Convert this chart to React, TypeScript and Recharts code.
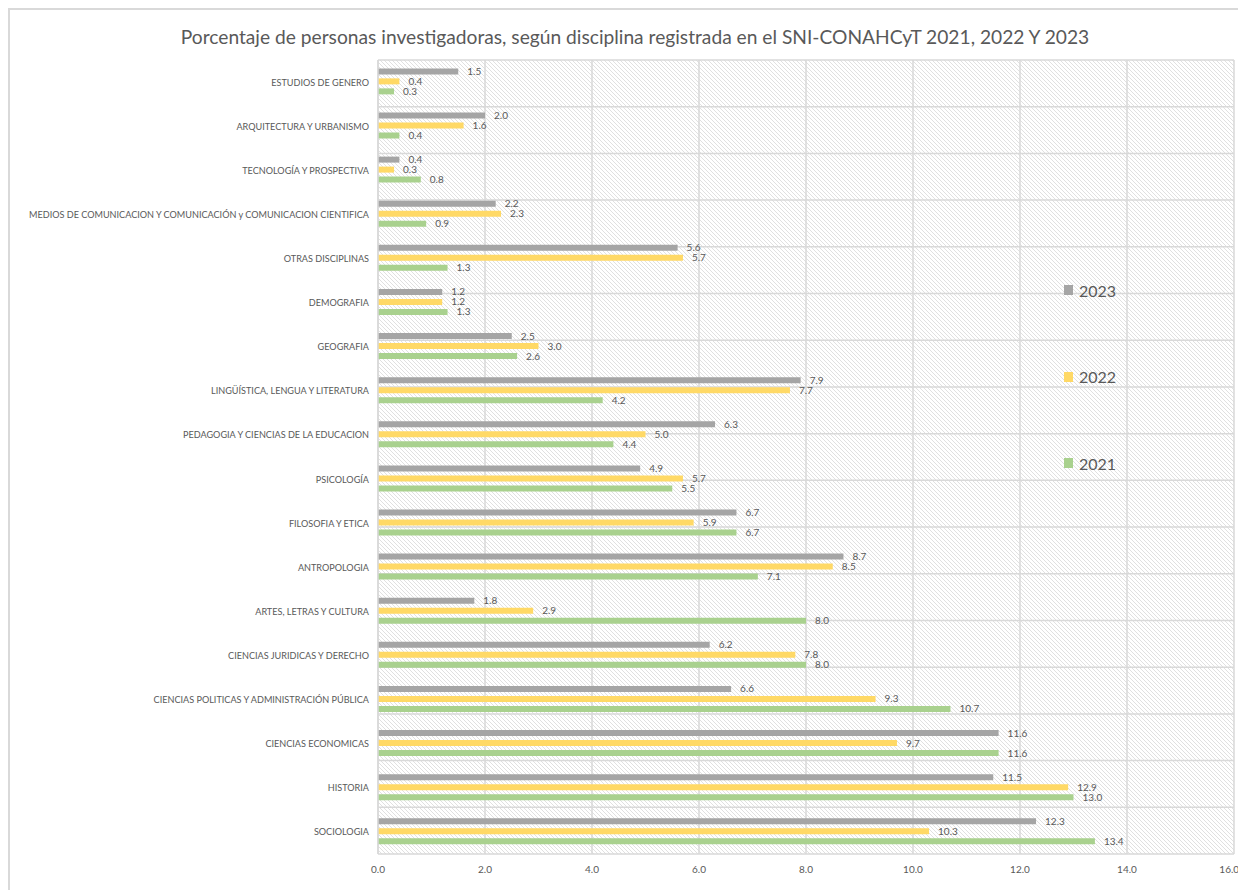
import React from 'react';
import { BarChart, Bar, XAxis, YAxis, CartesianGrid, LabelList, Legend } from 'recharts';

const categories = [
  'ESTUDIOS DE GENERO',
  'ARQUITECTURA Y URBANISMO',
  'TECNOLOGÍA Y PROSPECTIVA',
  'MEDIOS DE COMUNICACION Y COMUNICACIÓN y COMUNICACION CIENTIFICA',
  'OTRAS DISCIPLINAS',
  'DEMOGRAFIA',
  'GEOGRAFIA',
  'LINGÜÍSTICA, LENGUA Y LITERATURA',
  'PEDAGOGIA Y CIENCIAS DE LA EDUCACION',
  'PSICOLOGÍA',
  'FILOSOFIA Y ETICA',
  'ANTROPOLOGIA',
  'ARTES, LETRAS Y CULTURA ',
  'CIENCIAS JURIDICAS Y DERECHO',
  'CIENCIAS POLITICAS Y ADMINISTRACIÓN PÚBLICA',
  'CIENCIAS ECONOMICAS',
  'HISTORIA',
  'SOCIOLOGIA',
];

const values2023 = [1.5, 2.0, 0.4, 2.2, 5.6, 1.2, 2.5, 7.9, 6.3, 4.9, 6.7, 8.7, 1.8, 6.2, 6.6, 11.6, 11.5, 12.3];
const values2022 = [0.4, 1.6, 0.3, 2.3, 5.7, 1.2, 3.0, 7.7, 5.0, 5.7, 5.9, 8.5, 2.9, 7.8, 9.3, 9.7, 12.9, 10.3];
const values2021 = [0.3, 0.4, 0.8, 0.9, 1.3, 1.3, 2.6, 4.2, 4.4, 5.5, 6.7, 7.1, 8.0, 8.0, 10.7, 11.6, 13.0, 13.4];

const xTicks = [0, 2, 4, 6, 8, 10, 12, 14, 16];
const gridTicks = Array.from({ length: categories.length + 1 }, (_, i) => i);

const seriesInfo = [
  { key: 'y2023', name: '2023', color: '#A5A5A5' },
  { key: 'y2022', name: '2022', color: '#FFD966' },
  { key: 'y2021', name: '2021', color: '#A9D18E' },
];

const data = categories.map((name, i) => ({
  name,
  y2023: values2023[i],
  y2022: values2022[i],
  y2021: values2021[i],
}));

const TEXT = '#595959';
const FONT = 'Lato, "Open Sans", sans-serif';

const CategoryTick = (props: any) => {
  const { x, y, payload } = props;
  return (
    <text x={x - 1} y={y} dy={3.5} textAnchor="end" fill={TEXT} fontSize={9.1} fontFamily={FONT}>
      {payload.value}
    </text>
  );
};

const LegendContent = () => (
  <div style={{ fontFamily: FONT }}>
    {seriesInfo.map((s, i) => (
      <div
        key={s.key}
        style={{
          display: 'flex',
          alignItems: 'center',
          height: 20,
          marginBottom: i < seriesInfo.length - 1 ? 66.5 : 0,
          color: TEXT,
          fontSize: 16,
        }}
      >
        <span style={{ display: 'inline-block', width: 9, height: 10, background: s.color, marginRight: 6 }} />
        <span>{s.name}</span>
      </div>
    ))}
  </div>
);

export default function App() {
  return (
    <div
      style={{
        position: 'relative',
        width: 1230,
        height: 882,
        borderTop: '2px solid #d9d9d9',
        borderLeft: '2px solid #d9d9d9',
        boxSizing: 'border-box',
        background: '#fff',
        fontFamily: FONT,
      }}
    >
      <style>{`html{overflow:hidden} .recharts-wrapper, .recharts-surface{overflow:visible !important}`}</style>
      <div
        style={{
          position: 'absolute',
          top: 15,
          left: 0,
          width: 1250,
          textAlign: 'center',
          fontSize: 19.2,
          color: TEXT,
          fontFamily: FONT,
        }}
      >
        Porcentaje de personas investigadoras, según disciplina registrada en el SNI-CONAHCyT 2021, 2022 Y 2023
      </div>
      <BarChart
        width={1228}
        height={880}
        data={data}
        layout="vertical"
        margin={{ top: 50, right: 4, bottom: 6, left: 0 }}
        barCategoryGap="19%"
        barGap={4}
      >
        <defs>
          <pattern id="hatch" width="4" height="4" patternUnits="userSpaceOnUse">
            <rect width="4" height="4" fill="#ffffff" />
            <path d="M-1,-1 L5,5 M-1,3 L1,5 M3,-1 L5,1" stroke="#e0e0e0" strokeWidth="1" />
          </pattern>
        </defs>
        <CartesianGrid
          yAxisId="g"
          stroke="#d9d9d9"
          strokeWidth={1.5}
          fill="url(#hatch)"
          fillOpacity={1}
        />
        <XAxis
          type="number"
          domain={[0, 16]}
          ticks={xTicks}
          tickFormatter={(v: number) => v.toFixed(1)}
          axisLine={false}
          tickLine={false}
          tick={{ fill: TEXT, fontSize: 10, fontFamily: FONT }}
          tickMargin={6}
          height={30}
        />
        <YAxis
          type="category"
          dataKey="name"
          width={368}
          interval={0}
          axisLine={{ stroke: '#d9d9d9', strokeWidth: 1.5 }}
          tickLine={false}
          tick={<CategoryTick />}
        />
        <YAxis yAxisId="g" type="number" domain={[0, categories.length]} ticks={gridTicks} hide />
        <Legend
          layout="vertical"
          align="center"
          verticalAlign="middle"
          content={<LegendContent />}
          wrapperStyle={{ top: 270, left: 1054, width: 80 }}
        />
        {seriesInfo.map((s) => (
          <Bar key={s.key} dataKey={s.key} name={s.name} fill={s.color} isAnimationActive={false}>
            <LabelList
              dataKey={s.key}
              position="right"
              offset={9}
              fill={TEXT}
              fontSize={10}
              fontFamily={FONT}
              formatter={(v: number) => v.toFixed(1)}
            />
          </Bar>
        ))}
      </BarChart>
    </div>
  );
}
